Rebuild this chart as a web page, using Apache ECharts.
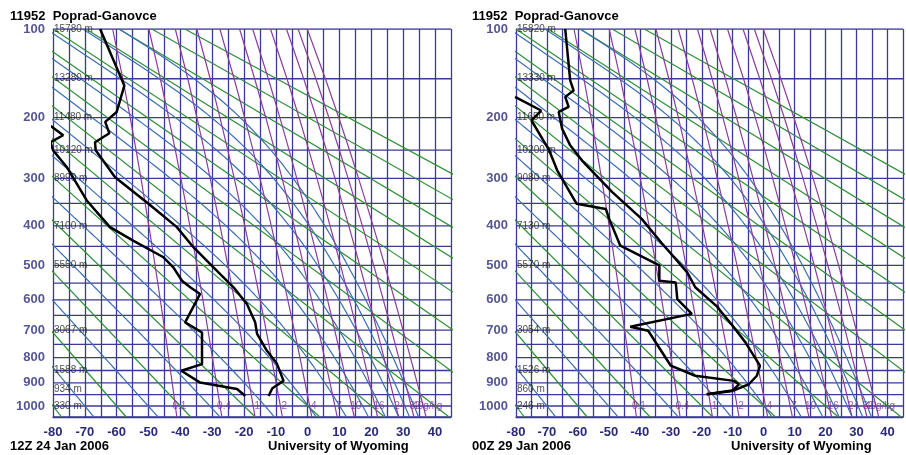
<!DOCTYPE html>
<html>
<head>
	<meta charset="utf-8">
	<title></title>
	<script src="https://cdn.jsdelivr.net/npm/echarts@6/dist/echarts.min.js"></script>
	<style>
		html,body{margin:0;padding:0;background:#fff;}
		#main{width:906px;height:455px;}
	</style>
</head>
<body>
	<div id="main"></div>
</body>
<script type="text/javascript">
	// Stuve diagram: y axis is p^kappa
	var KAPPA=0.286;
	function pk(p){ return Math.pow(p,KAPPA); }

	var gridLevels=[100,150,200,250,300,350,400,450,500,550,600,650,700,750,800,850,900,950,1000,1050];
	var pressureTicks=[100,200,300,400,500,600,700,800,900,1000];
	var heightLevels=[100,150,200,250,300,400,500,700,850,925,1000];
	// dry adiabats: theta - 273.15 ; moist adiabats: theta_e - 273.15
	var dryAdiabats=[-80,-60,-40,-20,0,20,40,60,80,100,120,140,160,180];
	var moistAdiabats=[-70,-50,-30,-10,10,30,50,70,90,110,130];
	var mixingRatios=[0.1,0.4,1,2,4,7,10,16,24,32,40];
	var mixingLabels=['0.1','0.4','1','2','4','7','10','16','24','32','40g/kg'];

	// 12Z 24 Jan 2006
	var leftTitle='11952  Poprad-Ganovce';
	var leftDate='12Z 24 Jan 2006';
	var leftHeights=['15780 m','13280 m','11480 m','10120 m','8990 m','7100 m','5550 m','3067 m','1588 m','934 m','330 m'];
	var leftTempP=[956,923,892,822,774,713,673,613,562,505,452,403,351,298,250,237,223,206,192,158,100];
	var leftTemp=[-12.3,-11.1,-7.6,-9.7,-12.8,-15.9,-16.5,-19.1,-23.3,-29.6,-35.9,-41.1,-50.0,-60.5,-66.6,-66.8,-62.3,-63.6,-60.0,-57.6,-65.2];
	var leftDewP=[956,926,899,851,825,708,673,582,562,543,505,478,436,403,344,279,250,237,226,213,200];
	var leftDew=[-19.6,-22.2,-33.8,-39.7,-33.2,-33.2,-38.5,-33.8,-36.9,-39.5,-42.2,-45.3,-54.7,-62.1,-69.4,-75.7,-80.0,-80.8,-76.8,-80.4,-86];

	// 00Z 29 Jan 2006
	var rightTitle='11952  Poprad-Ganovce';
	var rightDate='00Z 29 Jan 2006';
	var rightHeights=['15820 m','13330 m','11650 m','10200 m','9080 m','7130 m','5570 m','3054 m','1526 m','860 m','246 m'];
	var rightTempP=[948,930,906,871,831,743,684,619,562,519,440,384,327,270,242,216,192,185,172,164,152,100];
	var rightTemp=[-18.4,-9.2,-4.8,-2.2,-1.2,-5.9,-10.1,-15.3,-22.1,-24.7,-33.1,-39.4,-48.9,-58.3,-62.5,-65.1,-66.2,-63.0,-64.1,-61.4,-62.5,-64.1];
	var rightDewP=[948,934,906,892,871,831,702,688,645,598,548,543,500,448,384,362,351,285,250,204,190,172];
	var rightDew=[-18.4,-10.1,-8.0,-9.6,-22.1,-30.0,-37.3,-43.1,-23.2,-27.9,-28.4,-33.7,-33.7,-46.3,-49.9,-51.0,-60.4,-66.7,-69.3,-75.0,-71.9,-80.3];

	var NAVY='#3a3a94', LABEL='#2a2a78', GREEN='#2f8f3a', BLUE='#3c6eb0', PURPLE='#8a3d9e';
	var FONT='Liberation Sans, Arial, sans-serif';
	var LV=2.501e6, CP=1005.7, RD=287.04;

	function satVap(tc){ return 6.112*Math.exp(17.67*tc/(tc+243.5)); }
	function satMix(p,tk){ var es=satVap(tk-273.15); return 0.622*es/(p-es); }
	function dewFromMix(w,p){
		var e=w*p/(622+w);
		var l=Math.log(e/6.112);
		return 243.5*l/(17.67-l);
	}
	function moistSlope(p,tk){
		var rs=satMix(p,tk);
		var num=(RD*tk+LV*rs)/p;
		var den=CP+LV*LV*rs*0.622/(RD*tk*tk);
		return num/den;
	}
	// saturated temperature at 1000 hPa for a given theta_e
	function t1000FromThetaE(the){
		var lo=150, hi=330;
		for(var i=0;i<60;i++){
			var m=(lo+hi)/2;
			var f=m*Math.exp(LV*satMix(1000,m)/(CP*m));
			if(f>the) hi=m; else lo=m;
		}
		return (lo+hi)/2;
	}
	function moistLine(thetaE){
		var t0=t1000FromThetaE(thetaE+273.15);
		function run(pEnd,dp){
			var out=[]; var p=1000, tk=t0;
			while((dp<0 && p>pEnd) || (dp>0 && p<pEnd)){
				var k1=moistSlope(p,tk);
				var k2=moistSlope(p+dp/2,tk+k1*dp/2);
				var k3=moistSlope(p+dp/2,tk+k2*dp/2);
				var k4=moistSlope(p+dp,tk+k3*dp);
				tk+=dp*(k1+2*k2+2*k3+k4)/6; p+=dp;
				out.push([tk-273.15,pk(p)]);
			}
			return out;
		}
		var up=run(100,-5), down=run(1050,5);
		return down.reverse().concat([[t0-273.15,pk(1000)]]).concat(up);
	}

	function panel(g,heights,tP,t,dP,d){
		var ax={xAxisIndex:g,yAxisIndex:g};
		var s=[];
		function lines(data,color,width){
			return Object.assign({type:'lines',coordinateSystem:'cartesian2d',polyline:true,clip:true,silent:true,
				lineStyle:{color:color,width:width,opacity:1},data:data},ax);
		}
		s.push(lines(gridLevels.map(function(p){return {coords:[[-80,pk(p)],[45,pk(p)]]};}),NAVY,1.3));
		s.push(lines(dryAdiabats.map(function(tc){
			var th=tc+273.15;
			return {coords:[[th*pk(100)/pk(1000)-273.15,pk(100)],[th*pk(1050)/pk(1000)-273.15,pk(1050)]]};
		}),GREEN,1.2));
		s.push(lines(moistAdiabats.map(function(tc){return {coords:moistLine(tc)};}),BLUE,1.2));
		s.push(lines(mixingRatios.map(function(w){
			return {coords:gridLevels.map(function(p){return [dewFromMix(w,p),pk(p)];})};
		}),PURPLE,1.2));
		function profile(P,T){
			return Object.assign({type:'line',showSymbol:false,silent:true,clip:true,
				lineStyle:{color:'#000',width:2.5},
				data:P.map(function(p,i){return [T[i],pk(p)];})},ax);
		}
		s.push(profile(dP,d));
		s.push(profile(tP,t));
		function labels(data,label){
			return Object.assign({type:'scatter',symbolSize:0,silent:true,clip:false,
				label:Object.assign({show:true,formatter:'{b}',fontFamily:FONT},label),data:data},ax);
		}
		s.push(labels(pressureTicks.map(function(p){return {name:String(p),value:[-80,pk(p)]};}),
			{position:'left',distance:8,color:LABEL,fontSize:13,fontWeight:'bold'}));
		s.push(labels(heightLevels.map(function(p,i){return {name:heights[i],value:[-80,pk(p)]};}),
			{position:'right',distance:1,color:'#222',fontSize:10}));
		s.push(labels(mixingRatios.map(function(w,i){return {name:mixingLabels[i],value:[dewFromMix(w,1000),pk(1000)]};}),
			{position:'inside',offset:[4,0],color:'#7a3590',fontSize:10}));
		return s;
	}

	function xAxis(g){
		return {gridIndex:g,type:'value',min:-80,max:45,interval:5,
			axisLine:{show:true,lineStyle:{color:NAVY,width:1.3}},axisTick:{show:false},
			splitLine:{show:true,lineStyle:{color:NAVY,width:1.3}},
			axisLabel:{margin:9,color:LABEL,fontSize:13,fontWeight:'bold',fontFamily:FONT,
				formatter:function(v){return v%10===0?String(v):'';}}};
	}
	function yAxis(g){
		return {gridIndex:g,type:'value',min:pk(100),max:pk(1050),inverse:true,
			axisLine:{show:false},axisTick:{show:false},axisLabel:{show:false},splitLine:{show:false}};
	}
	function text(t,left,top){
		return {text:t,left:left,top:top,padding:0,textStyle:{fontSize:13,fontWeight:'bold',color:'#000',fontFamily:FONT}};
	}

	var myChart=echarts.init(document.getElementById('main'));
	var option={
		animation:false,
		backgroundColor:'#fff',
		title:[
			text(leftTitle,10,10),text(leftDate,10,440),text('University of Wyoming',268,440),
			text(rightTitle,472,10),text(rightDate,472,440),text('University of Wyoming',731,440)
		],
		grid:[
			{left:53,top:29,width:398,height:388},
			{left:516,top:29,width:398,height:388}
		],
		xAxis:[xAxis(0),xAxis(1)],
		yAxis:[yAxis(0),yAxis(1)],
		series:panel(0,leftHeights,leftTempP,leftTemp,leftDewP,leftDew)
			.concat(panel(1,rightHeights,rightTempP,rightTemp,rightDewP,rightDew))
	};
	myChart.setOption(option);
	window.addEventListener('resize',()=>{ myChart.resize(); });
</script>
</html>
